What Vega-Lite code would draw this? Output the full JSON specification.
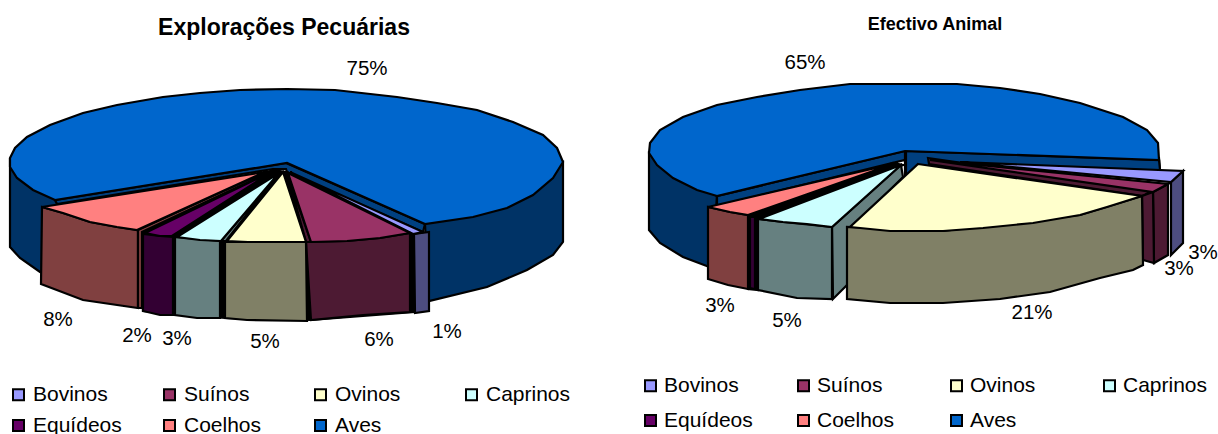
{"$schema":"https://vega.github.io/schema/vega-lite/v6.json","width":1218,"height":434,"padding":0,"autosize":{"type":"none"},"background":"white","config":{"view":{"stroke":null}},
"projection":{"type":"identity","scale":1,"translate":[0,0]},
"datasets":{
"left":[
{"s":"a1","c":"Aves lado","geo":{"type":"Polygon","coordinates":[[[10,160],[10,247],[20,258],[40,272],[60,280],[60,200],[10,160]]]}},
{"s":"a2","c":"Aves lado","geo":{"type":"Polygon","coordinates":[[[425,224],[563,162],[563,242],[553,255],[527,270],[487,287],[429,301],[425,224]]]}},
{"s":"a3","c":"Aves parede","geo":{"type":"Polygon","coordinates":[[[55,200],[286,163],[425,224],[423,232],[287,172],[286,169],[273,169],[57,204],[55,200]]]}},
{"s":"a4","c":"Aves","geo":{"type":"Polygon","coordinates":[[[55,200],[33,190],[17,178],[10,167],[10,158],[15,148],[27,137],[50,125],[83,113],[117,105],[163,97],[200,93],[240,90],[287,89],[335,90],[397,97],[437,103],[477,110],[513,122],[543,135],[557,148],[563,162],[553,178],[533,195],[507,208],[473,217],[425,224],[287,163],[55,200]]]}},
{"s":"j1","c":"Junta","geo":{"type":"Polygon","coordinates":[[[273,170],[287,172],[413,234],[414,312],[311,320],[225,318],[143,311],[142,232],[273,170]]]}},
{"s":"b1","c":"Bovinos lado","geo":{"type":"Polygon","coordinates":[[[414,234],[429,232],[429,311],[415,313],[414,234]]]}},
{"s":"b2","c":"Bovinos","geo":{"type":"Polygon","coordinates":[[[290,172],[423,232],[413,234],[290,172]]]}},
{"s":"c1","c":"Suínos lado","geo":{"type":"Polygon","coordinates":[[[306,242],[311,320],[363,315],[410,312],[410,233],[380,238],[347,241],[306,242]]]}},
{"s":"c2","c":"Suínos lado","geo":{"type":"Polygon","coordinates":[[[287,173],[311,242],[306,242],[287,173]]]}},
{"s":"c3","c":"Suínos","geo":{"type":"Polygon","coordinates":[[[288,173],[410,233],[380,238],[347,241],[311,242],[288,173]]]}},
{"s":"d1","c":"Ovinos lado","geo":{"type":"Polygon","coordinates":[[[225,242],[225,318],[247,320],[307,321],[306,242],[225,242]]]}},
{"s":"d2","c":"Ovinos","geo":{"type":"Polygon","coordinates":[[[283,172],[306,242],[248,242],[227,241],[283,172]]]}},
{"s":"e1","c":"Caprinos lado","geo":{"type":"Polygon","coordinates":[[[175,237],[175,315],[197,318],[220,318],[220,241],[175,237]]]}},
{"s":"e2","c":"Caprinos lado","geo":{"type":"Polygon","coordinates":[[[279,173],[226,241],[221,241],[279,173]]]}},
{"s":"e3","c":"Caprinos","geo":{"type":"Polygon","coordinates":[[[279,173],[221,241],[200,240],[177,237],[279,173]]]}},
{"s":"f1","c":"Equídeos lado","geo":{"type":"Polygon","coordinates":[[[143,234],[143,311],[160,315],[173,315],[173,237],[160,236],[143,234]]]}},
{"s":"f2","c":"Equídeos","geo":{"type":"Polygon","coordinates":[[[273,171],[172,236],[160,236],[145,233],[273,171]]]}},
{"s":"g1","c":"Coelhos lado","geo":{"type":"Polygon","coordinates":[[[42,207],[41,284],[83,300],[138,308],[138,230],[117,227],[90,222],[63,213],[42,207]]]}},
{"s":"g2","c":"Coelhos lado","geo":{"type":"Polygon","coordinates":[[[265,172],[272,171],[142,232],[142,308],[138,308],[138,230],[265,172]]]}},
{"s":"g3","c":"Coelhos","geo":{"type":"Polygon","coordinates":[[[265,172],[137,230],[117,227],[90,222],[63,213],[42,207],[265,172]]]}}
],
"right":[
{"s":"a1","c":"Aves lado","geo":{"type":"Polygon","coordinates":[[[649,153],[649,230],[660,243],[683,257],[712,268],[717,196],[649,153]]]}},
{"s":"a2","c":"Aves lado","geo":{"type":"Polygon","coordinates":[[[1159,158],[1160,170],[1140,170],[1140,158],[1159,158]]]}},
{"s":"a3","c":"Aves parede","geo":{"type":"Polygon","coordinates":[[[717,196],[905,151],[1159,160],[1160,170],[930,175],[906,185],[905,160],[717,206],[717,196]]]}},
{"s":"a5","c":"Aves parede","geo":{"type":"Polygon","coordinates":[[[905,151],[905,175],[906,175],[906,151],[905,151]]]}},
{"s":"a6","c":"Aves","geo":{"type":"Polygon","coordinates":[[[717,196],[697,190],[673,178],[657,165],[649,153],[650,143],[660,130],[683,117],[717,105],[757,97],[800,90],[850,84],[957,84],[1000,88],[1040,94],[1080,103],[1123,117],[1147,130],[1158,143],[1159,160],[905,151],[717,196]]]}},
{"s":"j1","c":"Junta","geo":{"type":"Polygon","coordinates":[[[748,215],[893,163],[903,165],[758,219],[758,290],[748,289],[748,215]]]}},
{"s":"b1","c":"Coelhos lado","geo":{"type":"Polygon","coordinates":[[[708,207],[708,279],[728,285],[748,289],[748,215],[730,212],[708,207]]]}},
{"s":"b2","c":"Coelhos","geo":{"type":"Polygon","coordinates":[[[893,164],[748,215],[730,212],[708,207],[893,164]]]}},
{"s":"c1","c":"Equídeos lado","geo":{"type":"Polygon","coordinates":[[[750,217],[755,217],[755,289],[750,288],[750,217]]]}},
{"s":"c2","c":"Equídeos","geo":{"type":"Polygon","coordinates":[[[898,163],[756,216],[750,217],[898,163]]]}},
{"s":"d1","c":"Caprinos lado","geo":{"type":"Polygon","coordinates":[[[832,227],[901,165],[903,177],[850,230],[847,285],[833,299],[832,227]]]}},
{"s":"d2","c":"Caprinos lado","geo":{"type":"Polygon","coordinates":[[[758,219],[758,290],[797,298],[832,299],[832,227],[783,222],[758,219]]]}},
{"s":"d3","c":"Caprinos","geo":{"type":"Polygon","coordinates":[[[901,165],[832,227],[807,224],[783,222],[759,219],[901,165]]]}},
{"s":"e1","c":"Bovinos lado","geo":{"type":"Polygon","coordinates":[[[1171,182],[1183,171],[1183,243],[1171,255],[1171,182]]]}},
{"s":"e2","c":"Bovinos","geo":{"type":"Polygon","coordinates":[[[960,162],[1183,171],[1171,182],[960,162]]]}},
{"s":"f1","c":"Suínos lado","geo":{"type":"Polygon","coordinates":[[[928,158],[1153,190],[1143,196],[929,164],[928,158]]]}},
{"s":"f2","c":"Suínos lado","geo":{"type":"Polygon","coordinates":[[[1153,192],[1168,184],[1168,255],[1154,263],[1153,192]]]}},
{"s":"f3","c":"Suínos lado","geo":{"type":"Polygon","coordinates":[[[1142,196],[1153,192],[1154,263],[1143,260],[1142,196]]]}},
{"s":"f4","c":"Suínos","geo":{"type":"Polygon","coordinates":[[[930,160],[1168,184],[1153,192],[930,160]]]}},
{"s":"g1","c":"Ovinos lado","geo":{"type":"Polygon","coordinates":[[[847,227],[847,299],[890,303],[943,303],[1000,299],[1050,292],[1100,278],[1133,270],[1143,265],[1142,196],[1080,215],[943,231],[847,227]]]}},
{"s":"g2","c":"Ovinos","geo":{"type":"Polygon","coordinates":[[[918,164],[1142,196],[1107,207],[1080,215],[1033,223],[983,228],[943,231],[890,231],[850,227],[918,164]]]}}
]},
"layer":[
{"data":{"name":"left"},"mark":{"type":"geoshape"},
"encoding":{"shape":{"field":"geo","type":"geojson"},"stroke":{"value":"#000000"},"strokeWidth":{"value":2.2},
"fill":{"field":"c","type":"nominal","scale":{"domain":["Bovinos","Suínos","Ovinos","Caprinos","Equídeos","Coelhos","Aves","Bovinos lado","Suínos lado","Ovinos lado","Caprinos lado","Equídeos lado","Coelhos lado","Aves lado","Aves parede","Junta"],"range":["#9999FF","#993366","#FFFFCC","#CCFFFF","#660066","#FF8080","#0066CC","#4D4D80","#4D1A33","#808066","#668080","#330033","#804040","#003366","#004080","#000000"]},
"legend":{"title":null,"orient":"none","direction":"horizontal","legendX":8,"legendY":384,"columns":4,"values":["Bovinos","Suínos","Ovinos","Caprinos","Equídeos","Coelhos","Aves"],"symbolType":"square","symbolSize":121,"symbolStrokeColor":"#000000","symbolStrokeWidth":2,"labelFont":"Liberation Sans","labelFontSize":21,"labelColor":"black","labelOffset":4,"columnPadding":37,"rowPadding":9,"gridAlign":"all","padding":0}}}},
{"data":{"name":"right"},"mark":{"type":"geoshape"},
"encoding":{"shape":{"field":"geo","type":"geojson"},"stroke":{"value":"#000000"},"strokeWidth":{"value":2.2},
"fill":{"field":"c","type":"nominal","scale":{"domain":["Bovinos","Suínos","Ovinos","Caprinos","Equídeos","Coelhos","Aves","Bovinos lado","Suínos lado","Ovinos lado","Caprinos lado","Equídeos lado","Coelhos lado","Aves lado","Aves parede","Junta"],"range":["#9999FF","#993366","#FFFFCC","#CCFFFF","#660066","#FF8080","#0066CC","#4D4D80","#4D1A33","#808066","#668080","#330033","#804040","#003366","#004080","#000000"]},
"legend":{"title":null,"orient":"none","direction":"horizontal","legendX":640,"legendY":375,"columns":4,"values":["Bovinos","Suínos","Ovinos","Caprinos","Equídeos","Coelhos","Aves"],"symbolType":"square","symbolSize":121,"symbolStrokeColor":"#000000","symbolStrokeWidth":2,"labelFont":"Liberation Sans","labelFontSize":21,"labelColor":"black","labelOffset":3,"columnPadding":40,"rowPadding":13,"gridAlign":"all","padding":0}}}},
{"data":{"values":[{"t":"75%","x":367,"y":69},{"t":"8%","x":58,"y":320},{"t":"2%","x":137,"y":336},{"t":"3%","x":177,"y":339},{"t":"5%","x":265,"y":342},{"t":"6%","x":379,"y":340},{"t":"1%","x":447,"y":332},{"t":"65%","x":805,"y":63},{"t":"3%","x":720,"y":306},{"t":"5%","x":787,"y":321},{"t":"21%","x":1032,"y":313},{"t":"3%","x":1179,"y":269},{"t":"3%","x":1203,"y":253}]},
"mark":{"type":"text","font":"Liberation Sans","fontSize":20.5,"color":"black","align":"center","baseline":"middle"},
"encoding":{"text":{"field":"t"},"longitude":{"field":"x","type":"quantitative"},"latitude":{"field":"y","type":"quantitative"}}},
{"data":{"values":[{"t":"Explorações Pecuárias","x":284,"y":28}]},
"mark":{"type":"text","font":"Liberation Sans","fontSize":23,"fontWeight":"bold","color":"black","align":"center","baseline":"middle"},
"encoding":{"text":{"field":"t"},"longitude":{"field":"x","type":"quantitative"},"latitude":{"field":"y","type":"quantitative"}}},
{"data":{"values":[{"t":"Efectivo Animal","x":935,"y":25}]},
"mark":{"type":"text","font":"Liberation Sans","fontSize":18,"fontWeight":"bold","color":"black","align":"center","baseline":"middle"},
"encoding":{"text":{"field":"t"},"longitude":{"field":"x","type":"quantitative"},"latitude":{"field":"y","type":"quantitative"}}}
],
"resolve":{"scale":{"fill":"independent"}}}
